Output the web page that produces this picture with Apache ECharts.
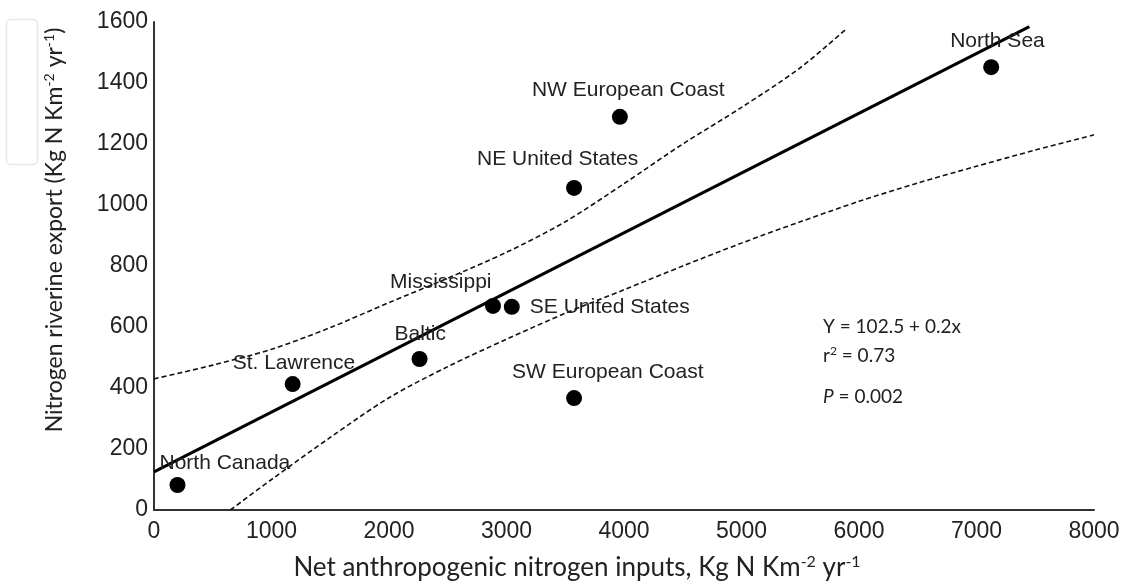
<!DOCTYPE html>
<html>
<head>
<meta charset="utf-8">
<script src="https://cdn.jsdelivr.net/npm/echarts@6/dist/echarts.min.js"></script>
<style>
  html, body { margin: 0; padding: 0; background: #fff; }
  #chart { width: 1128px; height: 586px; }
</style>
</head>
<body>
<div id="chart"></div>
<script>
// basins: [input, export]
var basinNames = ["North Canada", "St. Lawrence", "Baltic", "Mississippi", "SE United States",
  "SW European Coast", "NE United States", "NW European Coast", "North Sea"];
var basinInputs = [200, 1180, 2260, 2885, 3045, 3575, 3575, 3965, 7125];
var basinExports = [82, 413, 495, 669, 666, 367, 1056, 1289, 1452];

// fitted line, as drawn
var fitX = [0, 7450];
var fitY = [125, 1585];

// confidence bands
var upperX = [0, 500, 1000, 1500, 2000, 2500, 3000, 3500, 4000, 4500, 5000, 5500, 5900];
var upperY = [430, 475, 527, 598, 680, 760, 845, 945, 1070, 1200, 1320, 1450, 1580];
var lowerX = [650, 1000, 1500, 2000, 2500, 3000, 3500, 4000, 4500, 5000, 5500, 6000, 6500, 7000, 7500, 8000];
var lowerY = [0, 100, 238, 368, 470, 560, 645, 722, 800, 875, 945, 1012, 1072, 1127, 1180, 1230];

var xTicks = [0, 1000, 2000, 3000, 4000, 5000, 6000, 7000, 8000];
var yTicks = [0, 200, 400, 600, 800, 1000, 1200, 1400, 1600];

// label offsets (px) from each dot
var labelOffsets = [[-18, -22], [-60, -21], [-25, -25], [-103, -24], [18, 0],
  [-62, -26], [-97, -29], [-88, -27], [-41, -26]];

function zip(xs, ys) {
  return xs.map(function (x, i) { return [x, ys[i]]; });
}

var myChart = echarts.init(document.getElementById("chart"));
var axisFont = "'Liberation Sans', Arial, sans-serif";
var titleFont = "Lato, 'Open Sans', sans-serif";

function titleRich(size) {
  return {
    t: { fontSize: size, fontFamily: titleFont, fill: "#222", lineHeight: size + 2 },
    s: { fontSize: Math.round(size * 0.6), fontFamily: titleFont, fill: "#222", verticalAlign: "top", lineHeight: size + 2 },
  };
}

var option = {
  animation: false,
  grid: { left: 154, right: 34, top: 22, bottom: 76 },
  xAxis: {
    type: "value",
    min: 0,
    max: 8000,
    interval: 1000,
    splitLine: { show: false },
    axisTick: { show: false },
    axisLine: { lineStyle: { color: "#333", width: 2 } },
    axisLabel: {
      margin: 10,
      color: "#222",
      fontSize: 23,
      fontFamily: axisFont,
      formatter: function (v) { return xTicks.indexOf(v) >= 0 ? String(v) : ""; },
    },
  },
  yAxis: {
    type: "value",
    min: 0,
    max: 1600,
    interval: 200,
    splitLine: { show: false },
    axisTick: { show: false },
    axisLine: { show: true, lineStyle: { color: "#333", width: 2 } },
    axisLabel: {
      margin: 6,
      color: "#222",
      fontSize: 23,
      fontFamily: axisFont,
      formatter: function (v) { return yTicks.indexOf(v) >= 0 ? String(v) : ""; },
    },
  },
  graphic: [
    {
      type: "rect",
      left: 4, top: 17,
      shape: { width: 31, height: 145, r: 4 },
      style: { fill: "none", stroke: "#e6e9e6", lineWidth: 1.5 },
    },
    {
      type: "text",
      x: 55, y: 230,
      rotation: Math.PI / 2,
      style: {
        text: "{t|Nitrogen riverine export (Kg N Km}{s|-2}{t| yr}{s|-1}{t|)}",
        align: "center",
        verticalAlign: "middle",
        rich: titleRich(23),
      },
    },
    {
      type: "text",
      x: 577, y: 568,
      style: {
        text: "{t|Net anthropogenic nitrogen inputs, Kg N Km}{s|-2}{t| yr}{s|-1}",
        align: "center",
        verticalAlign: "middle",
        rich: titleRich(26),
      },
    },
    {
      type: "text",
      left: 823, top: 317,
      style: { text: "Y = 102.5 + 0.2x", fontSize: 19, fontFamily: titleFont, fill: "#222" },
    },
    {
      type: "text",
      left: 823, top: 345,
      style: {
        text: "{t|r}{s|2}{t| = 0.73}",
        rich: {
          t: { fontSize: 19, fontFamily: titleFont, fill: "#222", lineHeight: 22 },
          s: { fontSize: 12, fontFamily: titleFont, fill: "#222", verticalAlign: "top", lineHeight: 22 },
        },
      },
    },
    {
      type: "text",
      left: 823, top: 387,
      style: {
        text: "{i|P}{t| = 0.002}",
        rich: {
          i: { fontSize: 19, fontFamily: titleFont, fontStyle: "italic", fill: "#222" },
          t: { fontSize: 19, fontFamily: titleFont, fill: "#222" },
        },
      },
    },
  ],
  series: [
    {
      name: "upper",
      type: "line",
      data: zip(upperX, upperY),
      smooth: 0.3,
      showSymbol: false,
      lineStyle: { color: "#111", width: 1.6, type: [5, 3] },
      z: 2,
    },
    {
      name: "lower",
      type: "line",
      data: zip(lowerX, lowerY),
      smooth: 0.3,
      showSymbol: false,
      lineStyle: { color: "#111", width: 1.6, type: [5, 3] },
      z: 2,
    },
    {
      name: "fit",
      type: "line",
      data: zip(fitX, fitY),
      showSymbol: false,
      lineStyle: { color: "#000", width: 3 },
      z: 3,
    },
    {
      name: "basins",
      type: "scatter",
      symbolSize: 16,
      itemStyle: { color: "#000", opacity: 1 },
      data: basinNames.map(function (n, i) {
        return {
          name: n,
          value: [basinInputs[i], basinExports[i]],
          label: { offset: labelOffsets[i] },
        };
      }),
      label: {
        show: true,
        position: "inside",
        align: "left",
        verticalAlign: "middle",
        formatter: "{b}",
        color: "#222",
        fontSize: 21,
        fontFamily: axisFont,
      },
      z: 4,
    },
  ],
};
myChart.setOption(option);
</script>
</body>
</html>
